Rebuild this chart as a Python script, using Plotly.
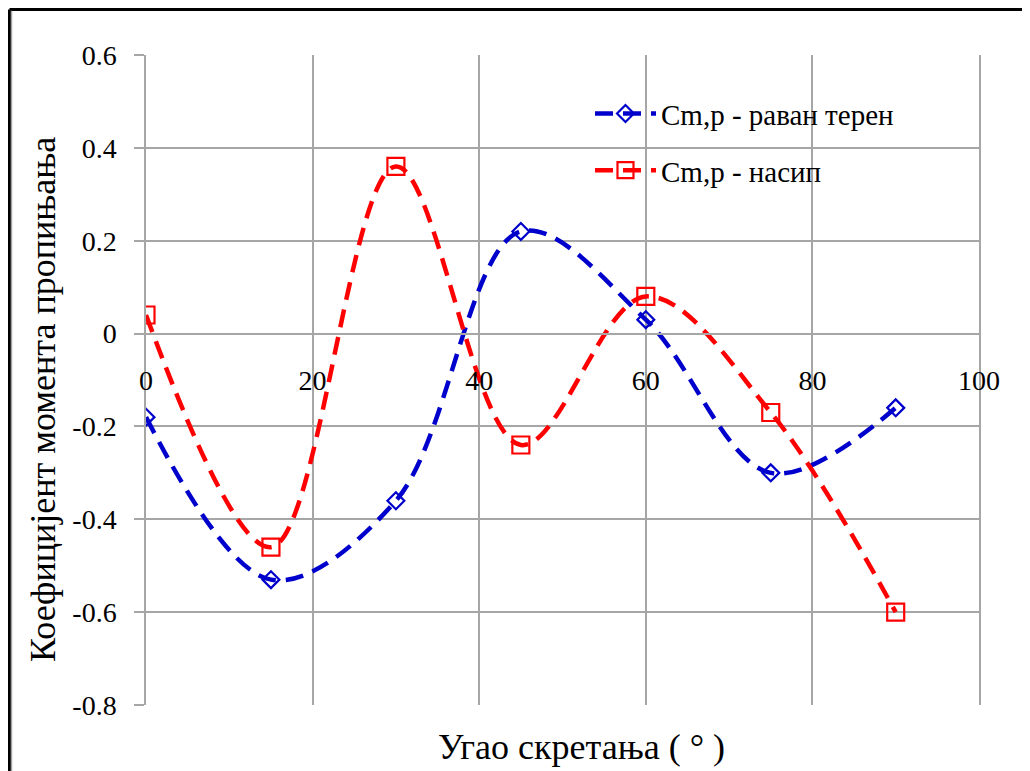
import plotly.graph_objects as go

# угао скретања (°)
angles = [0, 15, 30, 45, 60, 75, 90]

# Cm,p - раван терен
cm_flat = [-0.18, -0.53, -0.36, 0.22, 0.03, -0.30, -0.16]
# Cm,p - насип
cm_embankment = [0.04, -0.46, 0.36, -0.24, 0.08, -0.17, -0.60]

y_ticks = [-0.8, -0.6, -0.4, -0.2, 0, 0.2, 0.4, 0.6]
y_tick_text = ["-0.8", "-0.6", "-0.4", "-0.2", "0", "0.2", "0.4", "0.6"]
x_ticks = [0, 20, 40, 60, 80, 100]

FONT = "Liberation Serif"
GRID = "#a6a6a6"

fig = go.Figure()
fig.add_trace(go.Scatter(
    x=angles, y=cm_flat, name="Cm,p - раван терен",
    mode="lines+markers", legendgroup="a",
    line=dict(color="#0000cc", width=4.5, dash="18px,10px", shape="spline", smoothing=1),
    marker=dict(symbol="diamond-open", size=13, color="#0000cc", line=dict(width=2.2)),
))
fig.add_trace(go.Scatter(
    x=angles, y=cm_embankment, name="Cm,p - насип",
    mode="lines+markers", legendgroup="b",
    line=dict(color="#ff0000", width=4.5, dash="18px,10px", shape="spline", smoothing=1),
    marker=dict(symbol="square-open", size=17, color="#ff0000", line=dict(width=2.2)),
))

# x axis crosses at y = 0
zero_pos = (0 - y_ticks[0]) / (y_ticks[-1] - y_ticks[0])

fig.update_layout(
    width=1022, height=763,
    margin=dict(l=138, r=51, t=47, b=66),
    paper_bgcolor="white", plot_bgcolor="white",
    font=dict(family=FONT, size=28, color="black"),
    xaxis=dict(
        range=[0, 100], tickvals=x_ticks, showgrid=True, gridcolor=GRID, gridwidth=1.5,
        zeroline=False, showline=True, linecolor=GRID, linewidth=1.5, mirror=True,
        anchor="free", position=zero_pos, ticks="", ticklabelstandoff=22,
        tickfont=dict(family=FONT, size=28),
    ),
    yaxis=dict(
        range=[y_ticks[0], y_ticks[-1]], tickvals=y_ticks, ticktext=y_tick_text,
        showgrid=True, gridcolor=GRID, gridwidth=1.5, zeroline=False,
        showline=True, linecolor=GRID, linewidth=1.5, mirror=True,
        ticks="outside", ticklen=10, tickcolor=GRID, tickwidth=1.5,
        ticklabelstandoff=12, tickfont=dict(family=FONT, size=28),
    ),
    legend=dict(
        x=0.533, y=0.949, xanchor="left", yanchor="top",
        bgcolor="rgba(0,0,0,0)", font=dict(family=FONT, size=29), tracegroupgap=16,
        itemwidth=61,
    ),
    annotations=[
        dict(text="Угао скретања ( ° )", xref="paper", yref="paper",
             x=(581 - 146) / 833, y=-0.03, xanchor="center", yanchor="top",
             showarrow=False, font=dict(family=FONT, size=36)),
        dict(text="Коефицијент момента пропињања", xref="paper", yref="paper",
             x=(43 - 146) / 833, y=1 - (400 - 55) / 650, xanchor="center", yanchor="middle",
             textangle=-90, showarrow=False, font=dict(family=FONT, size=36)),
    ],
    shapes=[
        dict(type="line", xref="paper", yref="paper", x0=-0.1639, x1=1.2, y0=1.07, y1=1.07,
             line=dict(color="black", width=3)),
        dict(type="line", xref="paper", yref="paper", x0=-0.1639, x1=-0.1639, y0=1.07, y1=-0.2,
             line=dict(color="black", width=3)),
        dict(type="line", xref="paper", yref="paper", x0=-0.1615, x1=-0.1615, y0=1.068, y1=-0.2,
             line=dict(color="#a0a0a0", width=1.5)),
    ],
)

fig.write_html("out.html")
